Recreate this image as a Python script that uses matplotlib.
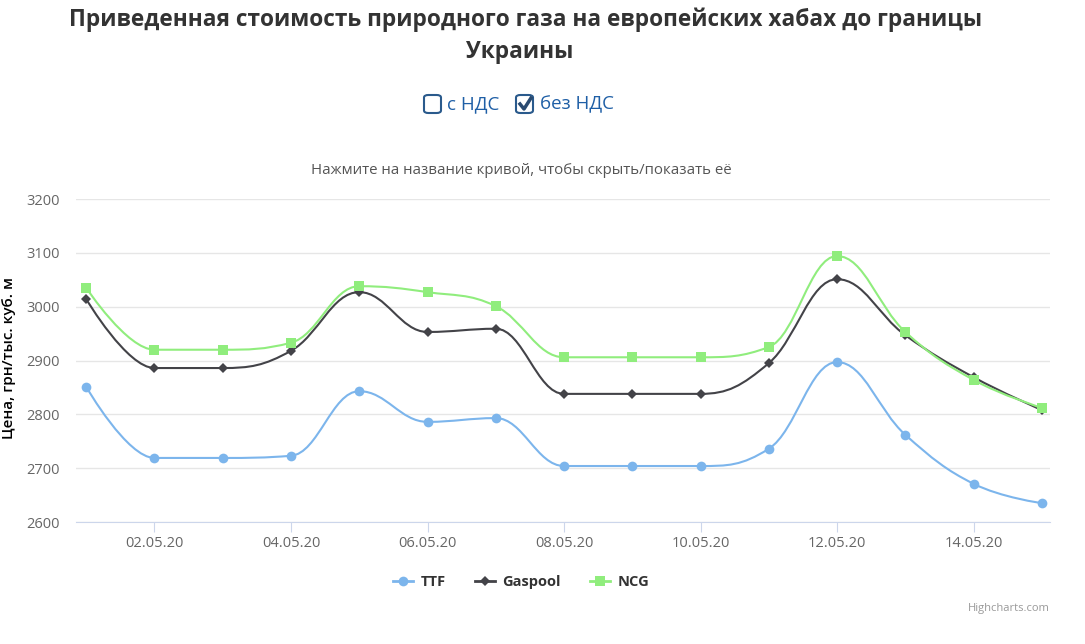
import numpy as np
import matplotlib
matplotlib.use('Agg')
import matplotlib.pyplot as plt
from matplotlib.path import Path
from matplotlib.patches import PathPatch, FancyBboxPatch
from matplotlib.lines import Line2D

plt.rcParams['font.family'] = ['Open Sans', 'DejaVu Sans']

# данные
dates = ['01.05.20', '02.05.20', '03.05.20', '04.05.20', '05.05.20', '06.05.20', '07.05.20',
         '08.05.20', '09.05.20', '10.05.20', '11.05.20', '12.05.20', '13.05.20', '14.05.20', '15.05.20']
ttf = [2851, 2719, 2719, 2723, 2843, 2786, 2793, 2704, 2704, 2704, 2736, 2897, 2762, 2671, 2635]
gaspool = [3014, 2886, 2886, 2918, 3027, 2953, 2959, 2838, 2838, 2838, 2895, 3051, 2947, 2869, 2808]
ncg = [3035, 2920, 2920, 2933, 3038, 3027, 3001, 2906, 2906, 2906, 2925, 3094, 2953, 2864, 2812]
series_names = ['TTF', 'Gaspool', 'NCG']
colors = ['#7cb5ec', '#434348', '#90ed7d']
markers = ['o', 'D', 's']
msizes = [7.0, 5.0, 7.0]


def spline_path(xs, ys, smoothing=1.5):
    # сглаживание как в Highcharts spline
    n = len(xs)
    denom = smoothing + 1
    left = [(xs[i], ys[i]) for i in range(n)]
    right = [(xs[i], ys[i]) for i in range(n)]
    for i in range(1, n - 1):
        px, py = xs[i], ys[i]
        lx, ly = xs[i - 1], ys[i - 1]
        nx, ny = xs[i + 1], ys[i + 1]
        lcx = (smoothing * px + lx) / denom
        lcy = (smoothing * py + ly) / denom
        rcx = (smoothing * px + nx) / denom
        rcy = (smoothing * py + ny) / denom
        corr = 0
        if rcx != lcx:
            corr = (rcy - lcy) * (rcx - px) / (rcx - lcx) + py - rcy
        lcy += corr
        rcy += corr
        if lcy > ly and lcy > py:
            lcy = max(ly, py); rcy = 2 * py - lcy
        elif lcy < ly and lcy < py:
            lcy = min(ly, py); rcy = 2 * py - lcy
        if rcy > ny and rcy > py:
            rcy = max(ny, py); lcy = 2 * py - rcy
        elif rcy < ny and rcy < py:
            rcy = min(ny, py); lcy = 2 * py - rcy
        left[i] = (lcx, lcy)
        right[i] = (rcx, rcy)
    verts = [(xs[0], ys[0])]
    codes = [Path.MOVETO]
    for i in range(1, n):
        verts += [right[i - 1], left[i], (xs[i], ys[i])]
        codes += [Path.CURVE4] * 3
    return Path(verts, codes)


fig = plt.figure(figsize=(10.85, 6.44), dpi=100)
ax = fig.add_axes([76 / 1085, 1 - 522 / 644, (1050 - 76) / 1085, (522 - 199) / 644])

x = np.arange(len(dates))
for vals, name, c, m, ms in zip([ttf, gaspool, ncg], series_names, colors, markers, msizes):
    p = spline_path(list(x.astype(float)), list(map(float, vals)))
    ax.add_patch(PathPatch(p, facecolor='none', edgecolor=c, lw=1.5, zorder=3))
    ax.plot(x, vals, linestyle='none', marker=m, color=c, markersize=ms, zorder=4,
            markeredgewidth=0)

ax.set_xlim(-0.15, 14.12)
ax.set_ylim(2600, 3200)
ax.set_yticks(range(2600, 3201, 100))
ax.set_xticks(x[1::2])
ax.set_xticklabels(dates[1::2])
ax.grid(axis='y', color='#e6e6e6', lw=1)
ax.set_axisbelow(True)
for s in ['top', 'right', 'left']:
    ax.spines[s].set_visible(False)
ax.spines['bottom'].set_color('#ccd6eb')
ax.tick_params(axis='y', length=0, labelsize=10.5, labelcolor='#666666', pad=12)
ax.tick_params(axis='x', length=7, color='#ccd6eb', labelsize=10.5, labelcolor='#666666', pad=3)

fig.text(9 / 1085, 1 - 358 / 644, 'Цена, грн/тыс. куб. м', rotation=90, ha='center', va='center',
         fontsize=11, fontweight='semibold', color='black')

# заголовок
fig.text(526 / 1085, 1 - 20 / 644, 'Приведенная стоимость природного газа на европейских хабах до границы',
         ha='center', va='center', fontsize=16.3, fontweight='bold', color='#333333')
fig.text(520 / 1085, 1 - 52 / 644, 'Украины', ha='center', va='center', fontsize=16.3,
         fontweight='bold', color='#333333')

# чекбоксы
blue = '#1f5fa6'
for bx in [424, 516]:
    fig.patches.append(FancyBboxPatch((bx / 1085, 1 - 113 / 644), 17 / 1085, 18 / 644,
                                      boxstyle='round,pad=0,rounding_size=0.004',
                                      transform=fig.transFigure, facecolor='white',
                                      edgecolor='#2a5a8c', lw=1.5))
fig.lines.append(Line2D([520 / 1085, 524 / 1085, 531 / 1085],
                        [1 - 104 / 644, 1 - 109 / 644, 1 - 98 / 644],
                        transform=fig.transFigure, color='#2a4a70', lw=2.5))
fig.text(447 / 1085, 1 - 104 / 644, 'с НДС', ha='left', va='center', fontsize=13.5, color=blue)
fig.text(540 / 1085, 1 - 104 / 644, 'без НДС', ha='left', va='center', fontsize=13.5, color=blue)

fig.text(521 / 1085, 1 - 170 / 644, 'Нажмите на название кривой, чтобы скрыть/показать её',
         ha='center', va='center', fontsize=10.8, color='#555555')

handles = [Line2D([], [], color=c, marker=m, markersize=ms, lw=2, markeredgewidth=0)
           for c, m, ms in zip(colors, markers, msizes)]
leg = fig.legend(handles, series_names, loc='center', bbox_to_anchor=(521 / 1085, 1 - 582 / 644),
                 ncol=3, frameon=False, handlelength=1.4, handletextpad=0.5, columnspacing=2.0,
                 prop={'weight': 'bold', 'size': 10.5})
for t in leg.get_texts():
    t.set_color('#333333')

fig.text(1050 / 1085, 1 - 609 / 644, 'Highcharts.com', ha='right', va='center', fontsize=8,
         color='#999999')

fig.savefig('out.png', dpi=100)
